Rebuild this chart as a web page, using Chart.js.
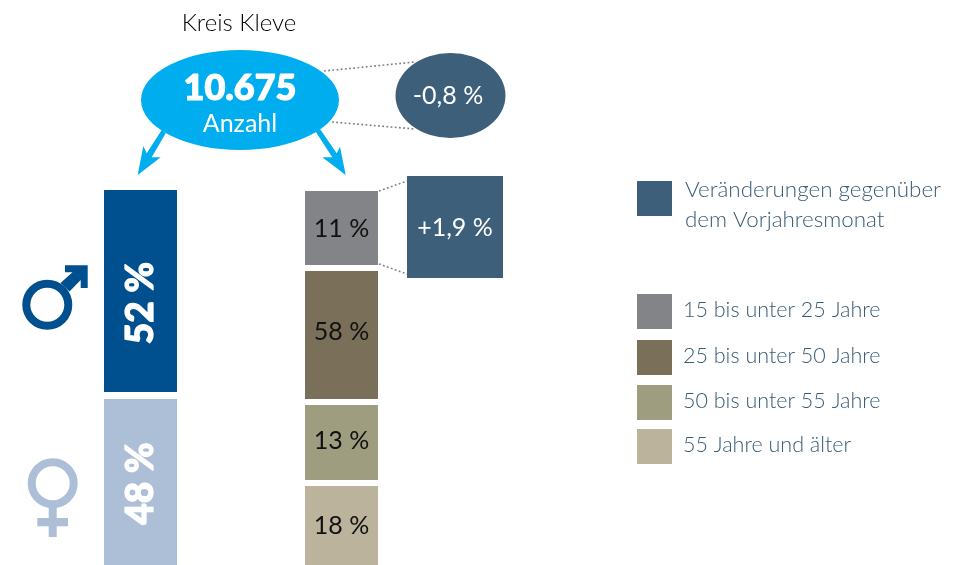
<!DOCTYPE html>
<html lang="de">
<head>
<meta charset="utf-8">
<title>Kreis Kleve</title>
<style>
    html, body { margin: 0; padding: 0; background: #fff; }
    #wrap { position: relative; width: 965px; height: 565px; }
</style>
</head>
<body>
<div id="wrap"><canvas id="chart" width="965" height="565"></canvas></div>
<script src="https://cdn.jsdelivr.net/npm/chart.js@4/dist/chart.umd.js"></script>
<script>
// Labels
const columns = ['Geschlecht', 'Alter'];
const genderLabels = ['Männer', 'Frauen'];
const ageLabels = ['15 bis unter 25 Jahre', '25 bis unter 50 Jahre', '50 bis unter 55 Jahre', '55 Jahre und älter'];

// Printed shares (%)
const genderShares = [52, 48];
const ageShares = [11, 58, 13, 18];

// The segments in the source are not drawn to scale with their printed shares,
// so their lengths are read off the picture separately
const genderLengths = [202, 166];
const ageLengths = [74, 128, 75, 79];

// Header figures
const regionName = 'Kreis Kleve';
const totalCount = '10.675';
const totalLabel = 'Anzahl';
const totalChange = '-0,8 %';
const youngChange = '+1,9 %';
const changeLegend = ['Veränderungen gegenüber', 'dem Vorjahresmonat'];

const genderColors = ['#00508f', '#adbfd7'];
const ageColors = ['#838488', '#7a7059', '#9e9d80', '#bbb39b'];
const changeColor = '#3d5f7a';
const cyan = '#00aeef';
const legendText = '#3a5b76';
const FONT = 'Lato, "Open Sans", sans-serif';

// Turn segment lengths into floating [from, to] spans with a small gap between
function toSpans(lengths, start, gap) {
    let pos = start;
    return lengths.map(len => {
        const span = [pos, pos + len];
        pos += len + gap;
        return span;
    });
}

const genderSpans = toSpans(genderLengths, 0, 7);
const ageSpans = toSpans(ageLengths, 1, 6);

const datasets = [];
genderLabels.forEach((label, i) => {
    datasets.push({ label, data: [genderSpans[i], null], backgroundColor: genderColors[i], share: genderShares[i], kind: 'gender' });
});
ageLabels.forEach((label, i) => {
    datasets.push({ label, data: [null, ageSpans[i]], backgroundColor: ageColors[i], share: ageShares[i], kind: 'age' });
});

function text(ctx, str, x, y, font, color, align) {
    ctx.font = font;
    ctx.fillStyle = color;
    ctx.textAlign = align || 'center';
    ctx.textBaseline = 'middle';
    ctx.fillText(str, x, y);
}

// Heavier than the heaviest Lato on hand, so add a thin outline
function heavyText(ctx, str, x, y, font, color) {
    text(ctx, str, x, y, font, color);
    ctx.strokeStyle = color;
    ctx.lineWidth = 1.2;
    ctx.lineJoin = 'round';
    ctx.strokeText(str, x, y);
}

function ellipse(ctx, x, y, rx, ry, color) {
    ctx.fillStyle = color;
    ctx.beginPath();
    ctx.ellipse(x, y, rx, ry, 0, 0, Math.PI * 2);
    ctx.fill();
}

function poly(ctx, pts, color) {
    ctx.fillStyle = color;
    ctx.beginPath();
    pts.forEach((p, i) => (i ? ctx.lineTo(p[0], p[1]) : ctx.moveTo(p[0], p[1])));
    ctx.closePath();
    ctx.fill();
}

function dotted(ctx, x1, y1, x2, y2) {
    ctx.save();
    ctx.strokeStyle = '#808080';
    ctx.lineWidth = 1.6;
    ctx.setLineDash([1.8, 2.4]);
    ctx.beginPath();
    ctx.moveTo(x1, y1);
    ctx.lineTo(x2, y2);
    ctx.stroke();
    ctx.restore();
}

function ring(ctx, x, y, r, width, color) {
    ctx.strokeStyle = color;
    ctx.lineWidth = width;
    ctx.beginPath();
    ctx.arc(x, y, r, 0, Math.PI * 2);
    ctx.stroke();
}

// Everything around the bars: labels, bubbles, arrows, symbols, legend
const decorations = {
    id: 'decorations',
    afterDatasetsDraw(chart) {
        const ctx = chart.ctx;
        ctx.save();

        // Segment labels (nudged a little, they are not quite centred in the source)
        const genderNudge = [12, 1.5];
        const ageNudge = [1, -3, -2, 0];
        chart.data.datasets.forEach((ds, i) => {
            const bar = chart.getDatasetMeta(i).data[ds.kind === 'gender' ? 0 : 1];
            const cy = (bar.base + bar.y) / 2;
            if (ds.kind === 'gender') {
                ctx.save();
                ctx.translate(bar.x + 1, cy + genderNudge[i]);
                ctx.rotate(-Math.PI / 2);
                heavyText(ctx, ds.share + ' %', 0, 0, '900 37px ' + FONT, '#fff');
                ctx.restore();
            } else {
                text(ctx, ds.share + ' %', bar.x, cy + ageNudge[i - 2], '400 25px ' + FONT, '#111');
            }
        });

        // Header
        text(ctx, regionName, 239, 23, '300 24px ' + FONT, '#000');

        // Dotted connectors
        dotted(ctx, 324, 71, 415, 62);
        dotted(ctx, 332, 122, 415, 129);
        dotted(ctx, 379, 191, 407, 181);
        dotted(ctx, 379, 264, 407, 274);

        // Arrows
        poly(ctx, [[161.7, 130], [165.7, 133.3], [151.7, 157.3], [160.7, 157.3], [137.7, 175], [143.3, 146], [146.7, 153.3]], cyan);
        poly(ctx, [[320, 129], [315.7, 131.7], [332.3, 157.3], [322.3, 157.3], [345.7, 175], [340, 146.7], [336.7, 153.3]], cyan);

        // Total bubble and change bubble
        ellipse(ctx, 240, 100, 99, 50, cyan);
        heavyText(ctx, totalCount, 240, 88, '900 36px ' + FONT, '#fff');
        text(ctx, totalLabel, 240, 124, '400 25px ' + FONT, '#fff');
        ellipse(ctx, 450.5, 95.5, 55, 42.5, changeColor);
        text(ctx, totalChange, 448, 96, '400 25px ' + FONT, '#fff');

        // Change box
        ctx.fillStyle = changeColor;
        ctx.fillRect(407, 176, 96, 102);
        text(ctx, youngChange, 455, 228, '400 25px ' + FONT, '#fff');

        // Male symbol
        ring(ctx, 47.3, 304.7, 21, 8, genderColors[0]);
        poly(ctx, [[65, 265.3], [87.7, 265.3], [87.7, 288], [80.7, 288], [80.7, 280], [69.5, 291.5], [60.5, 283], [72.5, 272.3], [65, 272.3]], genderColors[0]);

        // Female symbol
        ring(ctx, 52.7, 483.3, 21, 8, genderColors[1]);
        ctx.fillStyle = genderColors[1];
        ctx.fillRect(48.7, 506, 8, 31);
        ctx.fillRect(37.3, 518, 30.7, 8.3);

        // Legend
        ctx.fillStyle = changeColor;
        ctx.fillRect(637, 181, 35, 35);
        text(ctx, changeLegend[0], 685, 190, '300 22.4px ' + FONT, legendText, 'left');
        text(ctx, changeLegend[1], 685, 220, '300 22.4px ' + FONT, legendText, 'left');

        const swatchTops = [294, 340, 385, 429];
        ageLabels.forEach((label, i) => {
            ctx.fillStyle = ageColors[i];
            ctx.fillRect(637, swatchTops[i], 35, 35);
            text(ctx, label, 683, swatchTops[i] + 16, '300 21.5px ' + FONT, legendText, 'left');
        });

        ctx.restore();
    }
};

new Chart(document.getElementById('chart'), {
    type: 'bar',
    data: { labels: columns, datasets },
    plugins: [decorations],
    options: {
        responsive: false,
        animation: false,
        layout: { padding: { left: 40, right: 523, top: 190, bottom: 0 } },
        datasets: { bar: { grouped: false, barThickness: 73, borderWidth: 0, inflateAmount: 0 } },
        plugins: {
            legend: { display: false },
            tooltip: { enabled: false }
        },
        scales: {
            x: { display: false },
            y: { display: false, reverse: true, min: 0, max: 375 }
        }
    }
});
</script>
</body>
</html>
